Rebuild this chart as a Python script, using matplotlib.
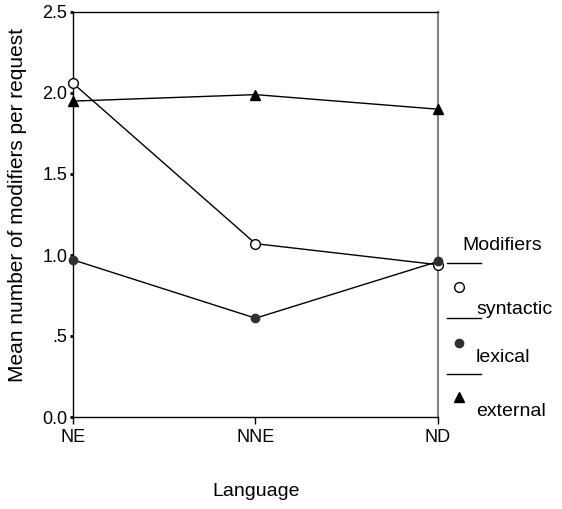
import matplotlib.pyplot as plt
from matplotlib.lines import Line2D

plt.rcParams['font.family'] = ['Liberation Sans', 'DejaVu Sans']

languages = ['NE', 'NNE', 'ND']
syntactic = [2.06, 1.07, 0.94]
lexical = [0.97, 0.61, 0.96]
external = [1.95, 1.99, 1.90]
yticks = [0.0, 0.5, 1.0, 1.5, 2.0, 2.5]
ytick_labels = ['0.0', '.5', '1.0', '1.5', '2.0', '2.5']

fig = plt.figure(figsize=(5.62, 5.09), dpi=100)
W, H = 562, 509
ax = fig.add_axes([73 / W, 1 - 417 / H, (438 - 73) / W, (417 - 12) / H])

x = range(len(languages))
ax.plot(x, syntactic, color='black', lw=1, marker='o', ms=7, mfc='white',
        mec='black', mew=1, clip_on=False, zorder=3)
ax.plot(x, lexical, color='black', lw=1, marker='o', ms=6, mfc='#303030',
        mec='#303030', clip_on=False, zorder=3)
ax.plot(x, external, color='black', lw=1, marker='^', ms=7, mfc='black',
        mec='black', clip_on=False, zorder=3)

ax.set_xlim(0, 2)
ax.set_ylim(0, 2.5)
ax.set_xticks(list(x))
ax.set_xticklabels(languages, fontsize=13)
ax.set_yticks(yticks)
ax.set_yticklabels(ytick_labels, fontsize=13)
ax.tick_params(axis='y', length=2, width=2, pad=2)
ax.tick_params(axis='x', length=5, width=1, pad=4)
ax.spines['right'].set_color('#808080')
ax.spines['right'].set_linewidth(1.5)
for s in ['left', 'bottom', 'top']:
    ax.spines[s].set_linewidth(1)

W_, H_ = W, H


def fx(px):
    return px / W_


def fy(py):
    return 1 - py / H_


# axis titles placed in pixel terms
fig.text(fx(18), fy(205), 'Mean number of modifiers per request', fontsize=15,
         rotation=90, ha='center', va='center')
fig.text(fx(256), fy(492), 'Language', fontsize=14, ha='center', va='center')

# legend drawn by hand to the right of the plot
fig.text(fx(462), fy(245), 'Modifiers', fontsize=14, va='center', ha='left')
for ly in [263, 318, 374]:
    fig.add_artist(Line2D([fx(447), fx(481)], [fy(ly), fy(ly)], color='black', lw=1))

entries = [('syntactic', 287, 310, dict(marker='o', ms=7, mfc='white', mec='black')),
           ('lexical', 343, 357, dict(marker='o', ms=6, mfc='#303030', mec='#303030')),
           ('external', 397, 412, dict(marker='^', ms=7, mfc='black', mec='black'))]
for label, my, ty, style in entries:
    fig.add_artist(Line2D([fx(459)], [fy(my)], ls='none', **style))
    fig.text(fx(476), fy(ty), label, fontsize=14, va='center', ha='left')

fig.savefig('out.png', dpi=100)
